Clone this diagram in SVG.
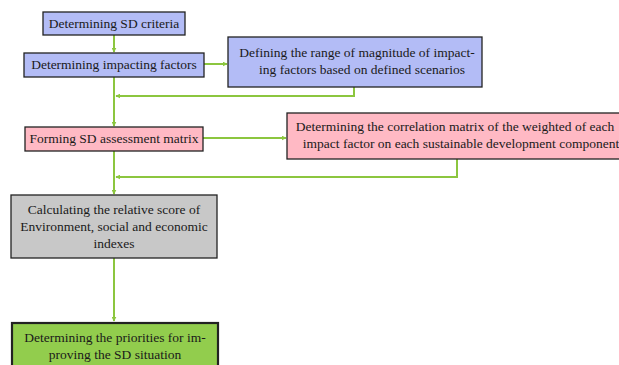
<svg xmlns="http://www.w3.org/2000/svg" width="619" height="365" viewBox="0 0 619 365">
<defs>
<style>
.box{stroke:#222;stroke-width:1.3}
.blue{fill:#b3bcf6}
.pink{fill:#ffb9c4}
.gray{fill:#c8c8c8}
.green{fill:#92cd4d;stroke-width:2.2}
.t{font-family:"Liberation Serif","Times New Roman",serif;font-size:13.5px;fill:#1a1a1a;text-anchor:middle}
.c{fill:none;stroke:#8cc63f;stroke-width:2}
</style>
<marker id="ah" viewBox="0 0 8 8" refX="7" refY="4" markerWidth="5" markerHeight="5" orient="auto" markerUnits="userSpaceOnUse">
<path d="M0,0 L8,4 L0,8 z" fill="#8cc63f"/>
</marker>
</defs>
<rect width="619" height="365" fill="#fff"/>
<g id="connectors">
<path class="c" d="M114,35 V52" marker-end="url(#ah)"/>
<path class="c" d="M204,64 H227" marker-end="url(#ah)"/>
<path class="c" d="M354,87 V96 H116" marker-end="url(#ah)"/>
<path class="c" d="M114,77 V126" marker-end="url(#ah)"/>
<path class="c" d="M203,138 H286" marker-end="url(#ah)"/>
<path class="c" d="M457,159 V177 H116" marker-end="url(#ah)"/>
<path class="c" d="M114,151 V194" marker-end="url(#ah)"/>
<path class="c" d="M114,258 V321" marker-end="url(#ah)"/>
</g>
<g id="n1">
<rect class="box blue" x="43" y="12" width="142" height="23"/>
<text class="t" x="114" y="28">Determining SD criteria</text>
</g>
<g id="n2">
<rect class="box blue" x="24" y="53" width="180" height="24"/>
<text class="t" x="114" y="69">Determining impacting factors</text>
</g>
<g id="n3">
<rect class="box blue" x="228" y="37" width="254" height="50"/>
<text class="t" x="357" y="57">Defining the range of magnitude of impact-</text>
<text class="t" x="362" y="74">ing factors based on defined scenarios</text>
</g>
<g id="n4">
<rect class="box pink" x="25" y="127" width="178" height="24"/>
<text class="t" x="114" y="143">Forming SD assessment matrix</text>
</g>
<g id="n5">
<rect class="box pink" x="287" y="113" width="340" height="46"/>
<text class="t" x="455" y="131">Determining the correlation matrix of the weighted of each</text>
<text class="t" x="461" y="148">impact factor on each sustainable development component</text>
</g>
<g id="n6">
<rect class="box gray" x="11" y="195" width="206" height="63"/>
<text class="t" x="114" y="214">Calculating the relative score of</text>
<text class="t" x="114" y="231">Environment, social and economic</text>
<text class="t" x="114" y="248">indexes</text>
</g>
<g id="n7">
<rect class="box green" x="12" y="323" width="206" height="50"/>
<text class="t" x="115" y="342">Determining the priorities for im-</text>
<text class="t" x="115" y="359">proving the SD situation</text>
</g>
</svg>
